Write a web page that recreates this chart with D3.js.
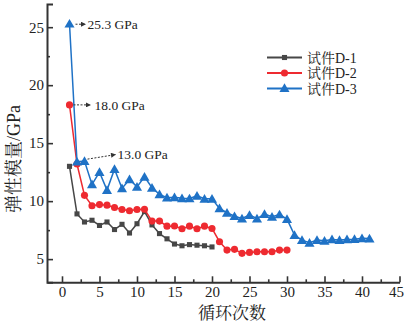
<!DOCTYPE html>
<html><head><meta charset="utf-8">
<script src="https://cdn.jsdelivr.net/npm/d3@7"></script>
<style>
html,body{margin:0;padding:0;background:#fff;}
svg{display:block;}
text{font-family:"Liberation Serif","Times New Roman","Noto Serif CJK SC","Noto Sans CJK SC",serif;fill:#222;}
</style></head>
<body>
<svg id="c" width="404" height="327"></svg>
<script>
const seriesNames = ["试件D-1", "试件D-2", "试件D-3"];
const d1 = [13.0, 8.9, 8.2, 8.35, 7.9, 8.2, 7.55, 8.0, 7.25, 8.05, 9.1, 7.95, 7.2, 6.75, 6.3, 6.15, 6.25, 6.2, 6.15, 6.05];
const d2 = [18.3, 13.2, 10.5, 9.6, 9.7, 9.65, 9.45, 9.28, 9.17, 9.28, 9.3, 8.28, 8.28, 7.84, 7.86, 7.62, 7.84, 7.62, 7.84, 7.64, 6.5, 5.78, 5.84, 5.5, 5.58, 5.63, 5.63, 5.63, 5.78, 5.78];
const d3v = [25.3, 13.4, 13.45, 11.44, 12.5, 10.95, 12.76, 11.1, 11.87, 11.23, 12.1, 11.15, 10.58, 10.3, 10.33, 10.25, 10.23, 10.46, 10.2, 10.2, 9.37, 9.0, 8.7, 8.5, 8.8, 8.5, 8.88, 8.65, 8.85, 8.45, 7.07, 6.64, 6.41, 6.64, 6.58, 6.7, 6.64, 6.7, 6.72, 6.8, 6.78];
const xMajor = [0, 5, 10, 15, 20, 25, 30, 35, 40, 45];
const yMajor = [5, 10, 15, 20, 25];
const annotations = [
  {series: 2, idx: 0, label: "25.3 GPa"},
  {series: 1, idx: 0, label: "18.0 GPa"},
  {series: 2, idx: 2, label: "13.0 GPa"}
];
const xTitle = "循环次数";
const yTitle = "弹性模量/GPa";

const colors = ["#474747", "#ee2a30", "#1f72c6"];
const shapes = [d3.symbolSquare, d3.symbolCircle, d3.symbolTriangle];
const symSizes = [26, 40, 44];

const svg = d3.select("#c");
const x = d3.scaleLinear().domain([-2, 45]).range([47, 399.5]);
const y = d3.scaleLinear().domain([3, 27]).range([282.3, 4]);

const allSeries = [d1, d2, d3v].map(arr => arr.map((v, i) => ({c: i + 1, v})));

// axes
const axisColor = "#333";
const xMinor = d3.range(0, 45.01, 2.5).filter(v => v % 5 !== 0);
const yMinor = d3.range(5, 27, 2.5).filter(v => v % 5 !== 0);

const gx = svg.append("g").attr("transform", `translate(0,${y.range()[0]})`)
  .call(d3.axisBottom(x).tickValues(xMajor).tickSizeInner(-6).tickSizeOuter(0).tickPadding(4));
const gxm = svg.append("g").attr("transform", `translate(0,${y.range()[0]})`)
  .call(d3.axisBottom(x).tickValues(xMinor).tickSizeInner(-3).tickSizeOuter(0).tickFormat(""));
const gy = svg.append("g").attr("transform", `translate(${x.range()[0]},0)`)
  .call(d3.axisLeft(y).tickValues(yMajor).tickSizeInner(-6).tickSizeOuter(-6).tickPadding(3));
const gym = svg.append("g").attr("transform", `translate(${x.range()[0]},0)`)
  .call(d3.axisLeft(y).tickValues(yMinor).tickSizeInner(-3).tickSizeOuter(0).tickFormat(""));
[gx, gxm, gy, gym].forEach(g => {
  g.selectAll("path.domain").attr("stroke", axisColor).attr("stroke-width", 2);
  g.selectAll(".tick line").attr("stroke", axisColor).attr("stroke-width", 1.6);
  g.selectAll(".tick text").attr("font-size", 15).attr("fill", "#222")
    .style("font-family", '"Liberation Serif","Times New Roman",serif');
});
gxm.select("path.domain").remove();
gym.select("path.domain").remove();
// keep the last x label inside the canvas
gx.selectAll(".tick text").filter(d => d === 45).attr("dx", -3.5);

// lines & markers
const line = d3.line().x(d => x(d.c)).y(d => y(d.v));
allSeries.forEach((data, s) => {
  svg.append("path").datum(data).attr("d", line)
    .attr("fill", "none").attr("stroke", colors[s]).attr("stroke-width", 1.5);
  svg.append("g").selectAll("path").data(data).join("path")
    .attr("transform", d => `translate(${x(d.c)},${y(d.v) + (s === 2 ? 1 : 0)})`)
    .attr("d", d3.symbol().type(shapes[s]).size(symSizes[s]))
    .attr("fill", colors[s]);
});

// annotations
const defs = svg.append("defs");
defs.append("marker").attr("id", "ah").attr("viewBox", "0 0 10 10").attr("refX", 9).attr("refY", 5)
  .attr("markerWidth", 6).attr("markerHeight", 5).attr("orient", "auto-start-reverse")
  .append("path").attr("d", "M0,0 L10,5 L0,10 z").attr("fill", "#333");

const annOffsets = [
  {sx: 6, sy: 0.5, ex: 16, ey: 0.5, tx: 18},
  {sx: 4, sy: 0, ex: 21, ey: 0, tx: 25},
  {sx: 3, sy: -2, ex: 31, ey: -6.5, tx: 33}
];
annotations.forEach((a, k) => {
  const p = allSeries[a.series][a.idx];
  const px = x(p.c), py = y(p.v);
  const o = annOffsets[k];
  svg.append("line")
    .attr("x1", px + o.sx).attr("y1", py + o.sy)
    .attr("x2", px + o.ex).attr("y2", py + o.ey)
    .attr("stroke", "#333").attr("stroke-width", 1)
    .attr("stroke-dasharray", "2,1.5").attr("marker-end", "url(#ah)");
  svg.append("text").attr("x", px + o.tx).attr("y", py + o.ey)
    .attr("dy", "0.35em").attr("font-size", 13.5).text(a.label);
});

// legend
const legY = [57.5, 73, 88.5];
seriesNames.forEach((name, s) => {
  const g = svg.append("g").attr("transform", `translate(0,${legY[s]})`);
  g.append("line").attr("x1", 267).attr("x2", 302).attr("y1", 0).attr("y2", 0)
    .attr("stroke", colors[s]).attr("stroke-width", 1.8);
  g.append("path").attr("transform", `translate(284.5,${s === 2 ? 0.5 : 0})`)
    .attr("d", d3.symbol().type(shapes[s]).size(symSizes[s])).attr("fill", colors[s]);
  g.append("text").attr("x", 307).attr("y", 0).attr("dy", "0.36em").attr("font-size", 14)
    .attr("fill", "#333").text(name);
});

// titles
svg.append("text").attr("x", 232).attr("y", 313).attr("dy", "0.35em")
  .attr("text-anchor", "middle").attr("font-size", 17).attr("fill", "#333").text(xTitle);
svg.append("text").attr("transform", "translate(14,159) rotate(-90)")
  .attr("dy", "0.35em").attr("text-anchor", "middle").attr("font-size", 18)
  .attr("fill", "#333").text(yTitle);
</script>
</body></html>
